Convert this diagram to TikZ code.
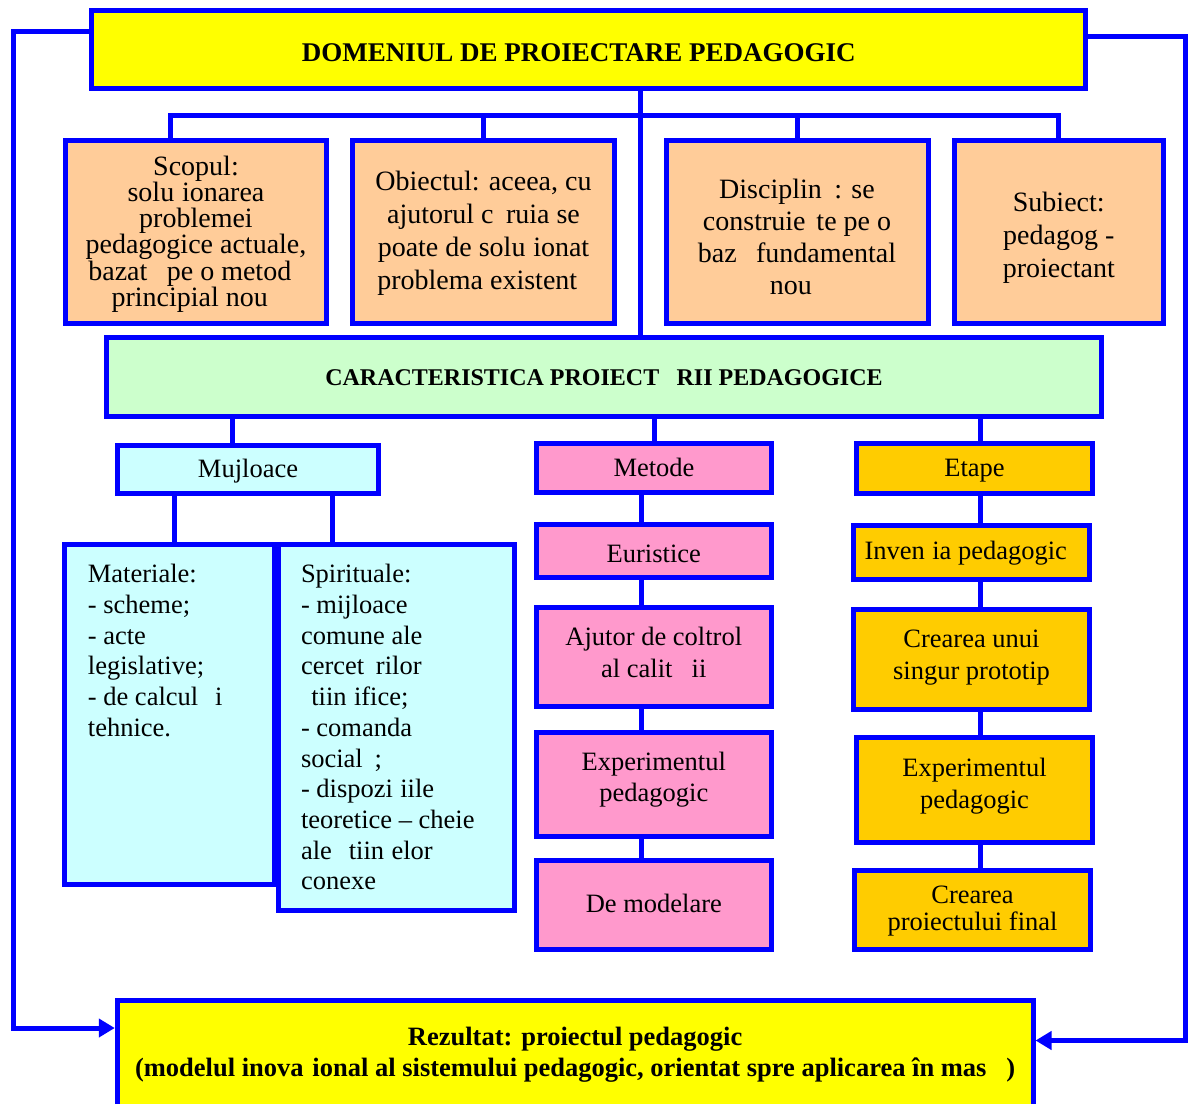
\documentclass[tikz,border=0pt]{standalone}
\usepackage{fontspec}
\setmainfont{Liberation Serif}
\usetikzlibrary{arrows.meta}
\definecolor{bl}{HTML}{0000FF}
\definecolor{yel}{HTML}{FFFF00}
\definecolor{peach}{HTML}{FFCC99}
\definecolor{lgreen}{HTML}{CCFFCC}
\definecolor{lcyan}{HTML}{CCFFFF}
\definecolor{pink}{HTML}{FF99CC}
\definecolor{gold}{HTML}{FFCC00}
\newcommand{\shtxt}[2]{\raisebox{#1}[\height][\depth]{\begin{tabular}{@{}c@{}}#2\end{tabular}}}
\begin{document}
\begin{tikzpicture}[x=1pt,y=-1pt,
  box/.style={draw=bl, line width=5pt, rectangle, inner sep=0pt},
  conn/.style={draw=bl, line width=5pt},
  arr/.style={conn, -{Triangle[length=16pt,width=18pt]}},
  big/.style={font=\fontsize{28}{#1}\selectfont},
  small/.style={font=\fontsize{26.5}{#1}\selectfont},
  lowbox/.style={box, minimum width=235.5pt}
]
\path[use as bounding box] (0,0) rectangle (1188,1103);
\clip (0,0) rectangle (1188,1103);

% boxes
\node[box, fill=yel, minimum width=994pt, minimum height=78pt, font=\fontsize{27}{31}\selectfont\bfseries] (dom) at (588.5,49.5)
  {\shtxt{-6pt}{DOMENIUL DE PROIECTARE PEDAGOGIC\hphantom{A}}};

\node[box, fill=peach, minimum width=261pt, minimum height=183pt, big=22.7] (scop) at (196,232)
  {\shtxt{-2.5pt}{Scopul:\\solu\hphantom{t}ionarea\\problemei\\pedagogice actuale,\\bazat\hphantom{a} pe o metod\hphantom{a}\\principial nou\hphantom{a}}};
\node[box, fill=peach, minimum width=262pt, minimum height=183pt, big=33] (obiect) at (483.5,232)
  {\shtxt{-1.5pt}{Obiectul: aceea, cu\\ajutorul c\hphantom{a}ruia se\\poate de solu\hphantom{t}ionat\\problema existent\hphantom{a}}};
\node[box, fill=peach, minimum width=262pt, minimum height=183pt, big=32.3] (discip) at (797,232)
  {\shtxt{-8pt}{Disciplin\hphantom{a}: se\\construie\hphantom{s}te pe o\\baz\hphantom{a} fundamental\\nou\hphantom{a}}};
\node[box, fill=peach, minimum width=209.4pt, minimum height=183pt, big=33] (subiect) at (1058.8,232)
  {\shtxt{-5.5pt}{Subiect:\\pedagog -\\proiectant}};

\node[box, fill=lgreen, minimum width=995pt, minimum height=79pt, font=\fontsize{24}{28}\selectfont\bfseries] (caract) at (604,377)
  {\shtxt{-2.5pt}{CARACTERISTICA PROIECT\hphantom{A}RII PEDAGOGICE}};

\node[box, fill=lcyan, minimum width=261.7pt, minimum height=48pt, small=31] (mujl) at (248,469) {\shtxt{-2pt}{Mujloace}};
\node[lowbox, fill=pink, minimum height=49pt, small=31] (metode) at (654,468) {\shtxt{-1.8pt}{Metode}};
\node[lowbox, fill=gold, minimum height=49.7pt, small=31] (etape) at (974.5,468.3) {\shtxt{-1.5pt}{Etape}};

\node[lowbox, fill=pink, minimum height=53pt, small=31] (eur) at (653.8,551) {\shtxt{-4.8pt}{Euristice}};
\node[lowbox, fill=gold, minimum height=53.7pt, small=31] (inv) at (971.7,552.3) {\shtxt{-0.5pt}{Inven\hphantom{t}ia pedagogic\hphantom{a}}};
\node[lowbox, fill=pink, minimum height=99pt, small=32] (ajut) at (653.8,657) {\shtxt{2.4pt}{Ajutor de coltrol\\al calit\hphantom{a}\hphantom{t}ii}};
\node[lowbox, fill=gold, minimum height=100pt, small=32] (cr1) at (971.5,659.5) {\shtxt{2.9pt}{Crearea unui\\singur prototip}};
\node[lowbox, fill=pink, minimum height=104pt, small=31] (exp1) at (653.8,784.5) {\shtxt{5.2pt}{Experimentul\\pedagogic}};
\node[lowbox, fill=gold, minimum height=105pt, small=32] (exp2) at (974.5,790) {\shtxt{4.4pt}{Experimentul\\pedagogic}};
\node[lowbox, fill=pink, minimum height=89pt, small=31] (model) at (653.8,905) {\shtxt{-0.8pt}{De modelare}};
\node[lowbox, fill=gold, minimum height=79pt, small=26] (final) at (972.5,910) {\shtxt{-1.8pt}{Crearea\\proiectului final}};

\node[box, fill=lcyan, small=30.7] (mat) at (169.7,714.35)
  {\parbox[c][339.7pt][t]{209.6pt}{\raggedright\leftskip=23pt\vspace*{20pt}%
   Materiale:\\- scheme;\\- acte\\legislative;\\- de calcul \hphantom{s}i\\tehnice.}};
\node[box, fill=lcyan, small=30.7] (spir) at (396.3,727.5)
  {\parbox[c][366pt][t]{235.6pt}{\raggedright\leftskip=22.5pt\vspace*{20pt}%
   Spirituale:\\- mijloace\\comune ale\\cercet\hphantom{a}rilor\\\hphantom{s}tiin\hphantom{t}ifice;\\- comanda\\social\hphantom{a};\\- dispozi\hphantom{t}iile\\teoretice -- cheie\\ale \hphantom{s}tiin\hphantom{t}elor\\conexe}};

\node[box, fill=yel, minimum width=915.7pt, minimum height=109pt, font=\fontsize{26.5}{31}\selectfont\bfseries] (bottom) at (575.15,1055)
  {\shtxt{0pt}{Rezultat: proiectul pedagogic\\(modelul inova\hphantom{t}ional al sistemului pedagogic, orientat spre aplicarea în mas\hphantom{a} )}};

% connectors
\coordinate (xa) at (640.5,0);
\draw[conn] (dom.south -| xa) -- (caract.north -| xa);
\coordinate (bL) at (170.7,115);
\coordinate (bR) at (1058.5,115);
\draw[conn] (scop.north -| bL) -- (bL) -- (bR) -- (subiect.north -| bR);
\draw[conn] (obiect.north) -- (obiect.north |- bL);
\draw[conn] (discip.north) -- (discip.north |- bL);

\coordinate (xm) at (232,0);
\coordinate (xe) at (980,0);
\coordinate (xk) at (641,0);
\coordinate (xm1) at (174,0);
\coordinate (xm2) at (332,0);
\draw[conn] (caract.south -| xm) -- (mujl.north -| xm);
\draw[conn] (caract.south -| metode.north) -- (metode.north);
\draw[conn] (caract.south -| xe) -- (etape.north -| xe);
\draw[conn] (mujl.south -| xm1) -- (mat.north -| xm1);
\draw[conn] (mujl.south -| xm2) -- (spir.north -| xm2);
\foreach \a/\b in {metode/eur, eur/ajut, ajut/exp1, exp1/model}
  \draw[conn] (\a.south -| xk) -- (\b.north -| xk);
\foreach \a/\b in {etape/inv, inv/cr1, cr1/exp2, exp2/final}
  \draw[conn] (\a.south -| xe) -- (\b.north -| xe);

\coordinate (lt) at (13.4,31);
\coordinate (lb) at (13.4,1028);
\draw[arr] (dom.west |- lt) -- (lt) -- (lb) -- (bottom.west |- lb);
\coordinate (rt) at (1185,36);
\coordinate (rb) at (1185,1040.5);
\draw[arr] (dom.east |- rt) -- (rt) -- (rb) -- (bottom.east |- rb);
\end{tikzpicture}
\end{document}
